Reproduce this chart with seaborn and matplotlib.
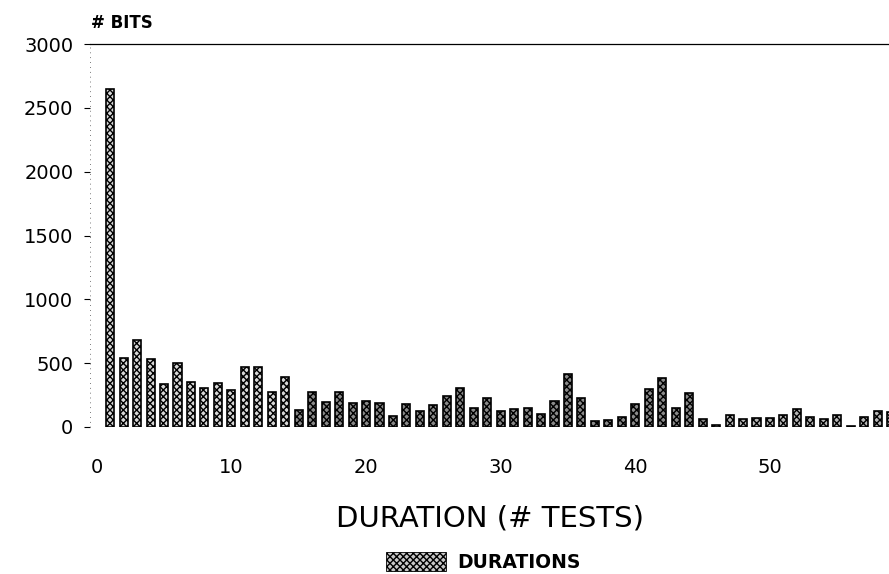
import matplotlib
matplotlib.use("Agg")
import matplotlib.pyplot as plt
import seaborn as sns
import pandas as pd
from matplotlib.patches import Patch

durations = list(range(1, 60))
bits = [2650, 540, 680, 535, 334, 503, 352, 308, 342, 287,
        467, 467, 274, 391, 130, 274, 198, 277, 188, 204,
        188, 86, 177, 128, 175, 240, 308, 149, 230, 125,
        143, 151, 104, 201, 418, 225, 50, 55, 76, 183,
        300, 381, 146, 269, 60, 13, 94, 62, 70, 70,
        94, 141, 78, 62, 94, 10, 78, 128, 120]
x_ticks = [0, 10, 20, 30, 40, 50]
y_ticks = [0, 500, 1000, 1500, 2000, 2500, 3000]

df = pd.DataFrame({"duration": durations, "bits": bits})

sns.set_theme(style="white")
plt.rcParams["font.family"] = ["DejaVu Sans"]
plt.rcParams["text.color"] = "black"
plt.rcParams["xtick.color"] = "black"
plt.rcParams["ytick.color"] = "black"
plt.rcParams["axes.labelcolor"] = "black"

fig = plt.figure(figsize=(8.89, 5.74), dpi=100)
ax = fig.add_axes([90 / 889, 1 - 427 / 574, 1 - 90 / 889, (427 - 44) / 574])

sns.barplot(data=df, x="duration", y="bits", native_scale=True, width=0.6,
            color="white", edgecolor="black", linewidth=1.2, ax=ax)
for i, p in enumerate(ax.patches):
    p.set_hatch("xxxxx")
    if i < 14:
        p.set_facecolor("#d8d8d8")
    elif i < 45:
        p.set_facecolor("#8a8a8a")
    else:
        p.set_facecolor("#b8b8b8")

ax.set_xlim(-0.5, (889 - 97) / 13.46)
ax.set_ylim(0, 3000)
ax.set_xticks(x_ticks)
ax.set_yticks(y_ticks)
ax.tick_params(axis="x", length=0, pad=22, labelsize=14)
ax.tick_params(axis="y", length=4, width=0.8, left=True, pad=8, labelsize=14)
for lbl in ax.get_xticklabels() + ax.get_yticklabels():
    lbl.set_fontweight("medium")
for s in ["left", "right", "bottom"]:
    ax.spines[s].set_visible(False)
ax.spines["top"].set_visible(True)
ax.spines["top"].set_linewidth(0.9)
ax.spines["top"].set_color("black")
ax.axvline(-0.5, color="black", linewidth=0.5, linestyle=(0, (1, 6)))
ax.axhline(0, color="black", linewidth=0.6, linestyle=(0, (2, 3)))

ax.set_xlabel("DURATION (# TESTS)", fontsize=21, labelpad=20, fontweight="medium")
ax.set_ylabel("")
fig.text(91 / 889, 1 - 23 / 574, "# BITS", fontsize=12, fontweight="bold",
         ha="left", va="center")

handle = Patch(facecolor="#c8c8c8", edgecolor="black", hatch="xxxxx", linewidth=0.6)
fig.legend([handle], ["DURATIONS"], loc="center", bbox_to_anchor=(483 / 889, 1 - 562 / 574),
           frameon=False, handlelength=3.2, handleheight=1.2, handletextpad=0.6,
           borderpad=0.1, prop={"weight": "bold", "size": 13.5})

fig.savefig("out.png", dpi=100)
